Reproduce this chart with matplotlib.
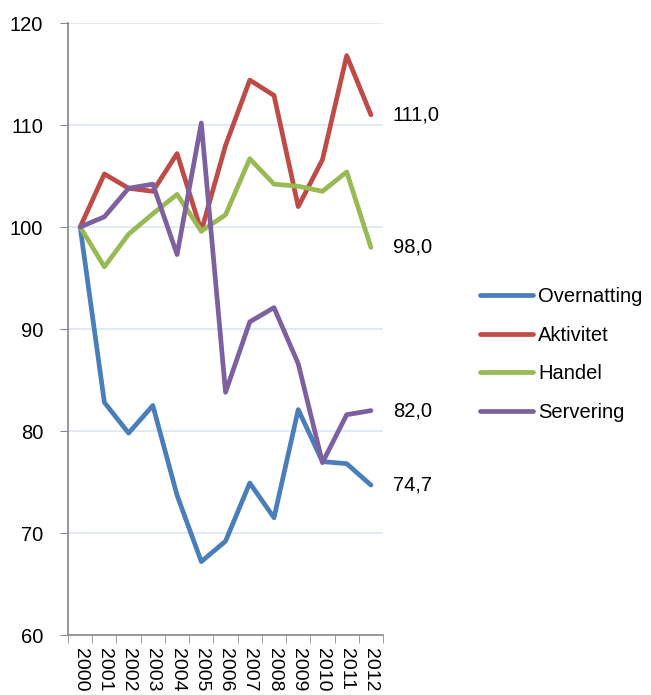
import numpy as np
import matplotlib.pyplot as plt

plt.rcParams['font.family'] = ['Liberation Sans', 'DejaVu Sans']

years = ['2000', '2001', '2002', '2003', '2004', '2005', '2006',
         '2007', '2008', '2009', '2010', '2011', '2012']
overnatting = [100, 82.8, 79.8, 82.5, 73.7, 67.2, 69.2, 74.9, 71.5, 82.1, 77.0, 76.8, 74.7]
aktivitet = [100, 105.2, 103.8, 103.5, 107.2, 99.6, 108.0, 114.4, 112.9, 102.0, 106.6, 116.8, 111.0]
handel = [100, 96.1, 99.3, 101.3, 103.2, 99.6, 101.2, 106.7, 104.2, 104.0, 103.5, 105.4, 98.0]
servering = [100, 101.0, 103.8, 104.2, 97.3, 110.2, 83.8, 90.7, 92.1, 86.6, 76.9, 81.6, 82.0]
end_labels = ['74,7', '111,0', '98,0', '82,0']

names = ['Overnatting', 'Aktivitet', 'Handel', 'Servering']
colors = ['#4a7ebb', '#be4b48', '#98b954', '#7d60a0']
series = [overnatting, aktivitet, handel, servering]

fs = 14.5
fig = plt.figure(figsize=(6.51, 6.95), dpi=100)
ax = fig.add_axes([0.1045, 0.0863, 0.4839, 0.8806])

x = np.arange(len(years))
for s, c, n in zip(series, colors, names):
    ax.plot(x, s, color=c, lw=3.4, label=n, solid_capstyle='round', solid_joinstyle='round')

for s, lab in zip(series, end_labels):
    ax.text(len(years) - 0.5 + 0.4, s[-1], lab, va='center', ha='left', fontsize=fs)

ax.set_xlim(-0.5, len(years) - 0.5)
ax.set_ylim(60, 120)
ax.set_yticks(np.arange(60, 121, 10))
ax.tick_params(axis='y', labelsize=fs, length=6, color='#888888', pad=12)
ax.set_xticks(x)
ax.set_xticklabels(years, rotation=-90, fontsize=14)
ax.set_xticks(np.arange(-0.5, len(years)), minor=True)
ax.tick_params(axis='x', which='major', length=0, pad=9.5)
ax.tick_params(axis='x', which='minor', length=6, color='#888888')
ax.grid(axis='y', color='#dce6f2', lw=1.2)
ax.set_axisbelow(True)
for sp in ['top', 'right']:
    ax.spines[sp].set_visible(False)
for sp in ['left', 'bottom']:
    ax.spines[sp].set_color('#888888')
    ax.spines[sp].set_linewidth(1.2)

fig.legend(loc='upper left', bbox_to_anchor=(0.737, 0.587), frameon=False, borderpad=0,
           borderaxespad=0, fontsize=fs, handlelength=2.65, handletextpad=0.25,
           labelspacing=0.97)

fig.savefig('out.png', dpi=100)
